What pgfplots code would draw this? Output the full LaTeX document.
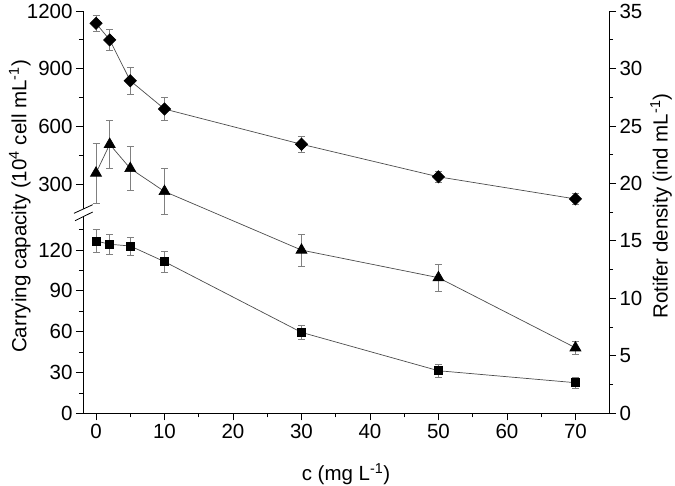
\documentclass[border=0pt]{standalone}
\usepackage{pgfplots}
\usepackage{pgfplotstable}
\pgfplotsset{compat=1.18}
\usepackage{fontspec}
\setmainfont{Liberation Sans}
\definecolor{linegray}{gray}{0.3}
\definecolor{errgray}{gray}{0.5}

\pgfplotstableread{
x y e
0 126.7 8.5
2 124.3 7.2
5 123.0 6.5
10 111.5 7.6
30 59.5 5.4
50 31.3 4.8
70 22.5 4.0
}\squares

\pgfplotstableread{
x y e
0 1136 41
2 1050 56
5 838 68
10 691 60
30 508 42
50 339 31
70 224 28
}\diamonds

\pgfplotstableread{
x y e
0 20.9 2.6
2 23.4 2.1
5 21.3 1.9
10 19.3 2.0
30 14.2 1.4
50 11.8 1.2
70 5.7 0.6
}\triangles

\pgfplotsset{
  base/.style={
    width=526pt, height=402.3pt, scale only axis, at={(0,0)}, anchor=south west,
    xmin=-1.9, xmax=74.9,
    tick align=outside, major tick length=7pt, minor tick length=4pt,
    every tick/.style={black, line width=0.8pt},
    axis line style={black, line width=0.8pt},
    font=\fontsize{20.5}{24}\selectfont,
    tick label style={font=\fontsize{20.5}{24}\selectfont},
    label style={font=\fontsize{20.5}{24}\selectfont},
    /pgf/number format/assume math mode=true,
    /pgf/number format/1000 sep={},
  },
  ser/.style={linegray, line width=0.7pt,
    error bars/y dir=both, error bars/y explicit,
    error bars/error bar style={errgray, line width=0.6pt},
    error bars/error mark options={errgray, line width=0.6pt, mark size=3.5pt, rotate=90}},
}

\begin{document}
\begin{tikzpicture}
\useasboundingbox (-83pt,-71.7pt) rectangle (592pt,413.3pt);

% lower left axis (squares) + x axis
\begin{axis}[base,
  axis x line*=bottom, axis y line*=left,
  ymin=0, ymax=295.8,
  xtick={0,10,...,70}, minor xtick={5,15,...,65},
  ytick={0,30,60,90,120}, minor ytick={15,45,75,105,135},
  xlabel={c (mg L\textsuperscript{-1})},
  xlabel style={at={(axis description cs:0.5,-0.151)}, anchor=center},
  ylabel={Carrying capacity (10\textsuperscript{4} cell mL\textsuperscript{-1})},
  ylabel style={at={(axis description cs:-0.12,0.514)}, anchor=center},
]
\addplot[ser, mark=square*, mark size=4pt, mark options={black, fill=black, solid}]
  table[x=x, y=y, y error=e] {\squares};
\end{axis}

% upper left axis (diamonds)
\begin{axis}[base,
  hide x axis, axis y line*=left,
  ymin=-889, ymax=1200,
  ytick={300,600,900,1200}, minor ytick={450,750,1050},
]
\addplot[ser, mark=square*, mark size=4.3pt, mark options={black, fill=black, solid, rotate=45}]
  table[x=x, y=y, y error=e] {\diamonds};
\end{axis}

% right axis (triangles)
\begin{axis}[base,
  hide x axis, axis y line*=right,
  ymin=0, ymax=35,
  ytick={0,5,...,35}, minor ytick={2.5,7.5,...,32.5},
  ylabel={Rotifer density (ind mL\textsuperscript{-1})},
  ylabel style={at={(axis description cs:1.099,0.515)}, anchor=center},
]
\addplot[ser, mark=triangle*, mark size=6.3pt, mark options={black, fill=black, solid}]
  table[x=x, y=y, y error=e] {\triangles};
\end{axis}

% axis break marks
\fill[white] (-9pt,200pt) -- (9.7pt,208.6pt) -- (9.7pt,201.3pt) -- (-8pt,192.6pt) -- cycle;
\draw[black, line width=0.8pt] (-9pt,200pt) -- (9.7pt,208.6pt);
\draw[black, line width=0.8pt] (-8pt,192.6pt) -- (9.7pt,201.3pt);
\end{tikzpicture}
\end{document}
